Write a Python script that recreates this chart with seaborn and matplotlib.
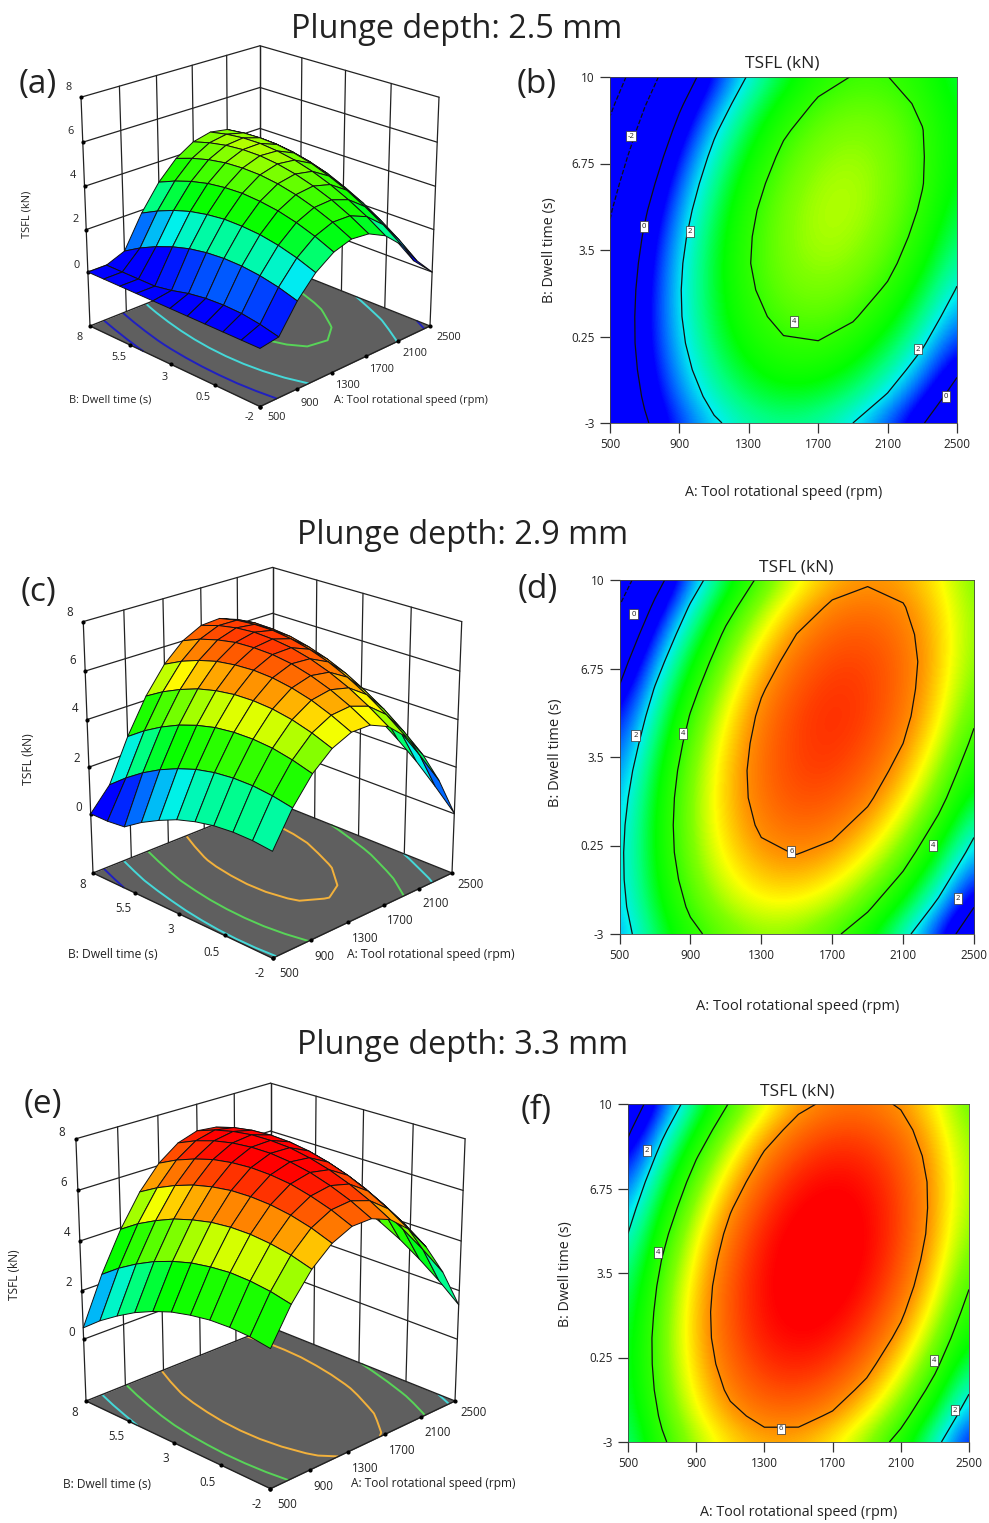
import numpy as np
import matplotlib
matplotlib.use('Agg')
import matplotlib.pyplot as plt
import seaborn as sns
from mpl_toolkits.mplot3d import proj3d

# tool speed / dwell time grid of the read-off tables
speed = [500, 700, 900, 1100, 1300, 1500, 1700, 1900, 2100, 2300, 2500]
dwell = [-3, -2, -1, 0, 1, 2, 3, 4, 5, 6, 7, 8, 9, 10]

# TSFL (kN), one row per dwell time
tsfl_25 = [
    [-1.65, -0.14, 1.03, 1.88, 2.41, 2.60, 2.46, 2.00, 1.21, 0.09, -1.35],
    [-1.42, 0.14, 1.38, 2.29, 2.87, 3.13, 3.05, 2.65, 1.92, 0.86, -0.52],
    [-1.28, 0.34, 1.64, 2.61, 3.25, 3.57, 3.55, 3.21, 2.54, 1.54, 0.21],
    [-1.22, 0.47, 1.82, 2.85, 3.55, 3.92, 3.97, 3.68, 3.07, 2.13, 0.87],
    [-1.25, 0.50, 1.92, 3.01, 3.77, 4.20, 4.30, 4.08, 3.53, 2.65, 1.44],
    [-1.34, 0.46, 1.94, 3.08, 3.90, 4.40, 4.56, 4.40, 3.90, 3.08, 1.94],
    [-1.52, 0.34, 1.88, 3.09, 3.97, 4.52, 4.74, 4.64, 4.21, 3.45, 2.36],
    [-1.79, 0.14, 1.74, 3.00, 3.94, 4.55, 4.84, 4.79, 4.42, 3.72, 2.69],
    [-2.12, -0.14, 1.51, 2.84, 3.84, 4.51, 4.85, 4.87, 4.55, 3.91, 2.94],
    [-2.56, -0.51, 1.20, 2.59, 3.65, 4.38, 4.78, 4.86, 4.60, 4.03, 3.12],
    [-3.06, -0.96, 0.82, 2.26, 3.38, 4.17, 4.63, 4.77, 4.57, 4.05, 3.20],
    [-3.65, -1.48, 0.35, 1.86, 3.04, 3.89, 4.41, 4.61, 4.47, 4.02, 3.22],
    [-4.31, -2.09, -0.19, 1.37, 2.61, 3.52, 4.10, 4.36, 4.28, 3.88, 3.15],
    [-5.05, -2.77, -0.82, 0.80, 2.10, 3.07, 3.71, 4.03, 4.01, 3.67, 3.00],
]
tsfl_29 = [
    [1.53, 2.83, 3.79, 4.40, 4.68, 4.60, 4.19, 3.43, 2.32, 0.88, -0.92],
    [1.72, 3.10, 4.13, 4.82, 5.17, 5.17, 4.83, 4.14, 3.11, 1.74, 0.02],
    [1.81, 3.26, 4.37, 5.14, 5.56, 5.64, 5.37, 4.76, 3.81, 2.51, 0.86],
    [1.82, 3.35, 4.54, 5.38, 5.88, 6.03, 5.84, 5.30, 4.43, 3.20, 1.64],
    [1.75, 3.35, 4.61, 5.53, 6.10, 6.33, 6.21, 5.75, 4.94, 3.79, 2.30],
    [1.59, 3.27, 4.60, 5.59, 6.24, 6.55, 6.50, 6.12, 5.39, 4.32, 2.90],
    [1.35, 3.10, 4.51, 5.57, 6.29, 6.67, 6.70, 6.39, 5.74, 4.73, 3.39],
    [1.00, 2.83, 4.32, 5.46, 6.25, 6.70, 6.81, 6.58, 6.00, 5.07, 3.81],
    [0.59, 2.49, 4.05, 5.27, 6.14, 6.67, 6.85, 6.69, 6.19, 5.34, 4.15],
    [0.08, 2.06, 3.69, 4.98, 5.93, 6.53, 6.79, 6.70, 6.27, 5.50, 4.38],
    [-0.51, 1.54, 3.25, 4.62, 5.64, 6.32, 6.65, 6.64, 6.29, 5.59, 4.55],
    [-1.19, 0.94, 2.72, 4.17, 5.26, 6.01, 6.42, 6.48, 6.20, 5.58, 4.61],
    [-1.95, 0.25, 2.11, 3.63, 4.80, 5.63, 6.11, 6.25, 6.04, 5.49, 4.60],
    [-2.81, -0.53, 1.40, 2.99, 4.24, 5.14, 5.70, 5.92, 5.79, 5.31, 4.50],
]
tsfl_33 = [
    [2.59, 3.87, 4.83, 5.45, 5.75, 5.72, 5.37, 4.68, 3.66, 2.32, 0.65],
    [2.80, 4.14, 5.15, 5.83, 6.19, 6.21, 5.91, 5.28, 4.32, 3.04, 1.42],
    [2.93, 4.32, 5.39, 6.13, 6.54, 6.62, 6.37, 5.80, 4.90, 3.67, 2.11],
    [2.97, 4.42, 5.54, 6.34, 6.80, 6.94, 6.75, 6.23, 5.38, 4.21, 2.71],
    [2.94, 4.45, 5.62, 6.47, 7.00, 7.19, 7.05, 6.59, 5.80, 4.68, 3.24],
    [2.82, 4.38, 5.62, 6.52, 7.10, 7.35, 7.27, 6.86, 6.13, 5.07, 3.67],
    [2.64, 4.25, 5.54, 6.50, 7.13, 7.44, 7.42, 7.06, 6.39, 5.38, 4.05],
    [2.36, 4.03, 5.37, 6.39, 7.08, 7.44, 7.47, 7.18, 6.56, 5.60, 4.32],
    [2.01, 3.74, 5.14, 6.21, 6.96, 7.37, 7.46, 7.22, 6.65, 5.76, 4.53],
    [1.57, 3.36, 4.81, 5.94, 6.74, 7.22, 7.36, 7.18, 6.66, 5.82, 4.66],
    [1.07, 2.91, 4.42, 5.60, 6.46, 6.99, 7.19, 7.06, 6.60, 5.82, 4.71],
    [0.47, 2.37, 3.93, 5.18, 6.09, 6.67, 6.93, 6.85, 6.46, 5.73, 4.67],
    [-0.19, 1.76, 3.38, 4.68, 5.65, 6.29, 6.60, 6.58, 6.24, 5.56, 4.56],
    [-0.95, 1.06, 2.74, 4.09, 5.11, 5.81, 6.18, 6.22, 5.93, 5.31, 4.37],
]

speed_ticks = [500, 900, 1300, 1700, 2100, 2500]
dwell_ticks = [-3, 0.25, 3.5, 6.75, 10]
dwell_tick_labels = ['-3', '0.25', '3.5', '6.75', '10']
dwell_ticks_3d = [-2, 0.5, 3, 5.5, 8]
dwell_tick_labels_3d = ['-2', '0.5', '3', '5.5', '8']
force_ticks = [0, 2, 4, 6, 8]
contour_levels = [-4, -2, 0, 2, 4, 6]
floor_line_colors = ['#2020c0', '#2020c0', '#2020c0', '#45d8d8', '#58d458', '#f2b13c']

# contour labels: speed, dwell, text
labels_b = [(621, 7.78, '-2'), (696, 4.37, '0'), (961, 4.2, '2'),
            (1561, 0.8, '4'), (2275, -0.22, '2'), (2437, -2.0, '0')]
labels_d = [(579, 8.75, '0'), (590, 4.3, '2'), (857, 4.35, '4'),
            (1469, 0.03, '6'), (2268, 0.25, '4'), (2409, -1.7, '2')]
labels_f = [(611, 8.2, '2'), (676, 4.3, '4'), (1397, -2.5, '6'),
            (2295, 0.12, '4'), (2418, -1.77, '2')]

W, H = 989, 1523
FLOOR = -2.6

sns.set_style('white')
plt.rcParams['font.family'] = ['Open Sans', 'DejaVu Sans']

cmap = sns.blend_palette(['#0000FF', '#0078FF', '#00F0F0', '#00FF80', '#00FF00', '#30FF00', '#80FF00',
                          '#FFFF00', '#FF9600', '#FF5000', '#FF0000'], n_colors=256, as_cmap=True)
norm = plt.Normalize(0.7, 7.2)

fig = plt.figure(figsize=(W / 100, H / 100), dpi=100, facecolor='white')


def put(x, y, s, size, **kw):
    fig.text(x / W, 1 - y / H, s, fontsize=size, ha='center', va='center', color='#222222', **kw)


def project(ax, x, y, z):
    x2, y2, _ = proj3d.proj_transform(x, y, z, ax.get_proj())
    return ax.transData.transform((x2, y2))


def fit_box(ax, left, right):
    # scale and shift the square axes so the floor corners land on the picture's
    ax.apply_aspect()
    p0 = project(ax, 500, 8, FLOOR)
    p1 = project(ax, 2500, -2, FLOOR)
    pos = ax.get_position()
    k = (right[0] - left[0]) / (p1[0] - p0[0])
    ax.set_position([pos.x0, pos.y0, pos.width * k, pos.height * k])
    ax.apply_aspect()
    p0 = project(ax, 500, 8, FLOOR)
    pos = ax.get_position()
    ax.set_position([pos.x0 + (left[0] - p0[0]) / W, pos.y0 + (H - left[1] - p0[1]) / H, pos.width, pos.height])
    ax.apply_aspect()


def surface(table, left, right, elev, focal, zbox, lab):
    ax = fig.add_axes([0.1, 0.1, 0.4, 0.4 * W / H], projection='3d', computed_zorder=False)
    ax.set_axis_off()
    ax.set_xlim(500, 2500)
    ax.set_ylim(-2, 8)
    ax.set_zlim(FLOOR, 8)
    ax.set_box_aspect((1, 1, zbox))
    ax.view_init(elev=elev, azim=-135)
    ax.set_proj_type('persp', focal_length=focal)
    fit_box(ax, left, right)

    z = np.array(table)[1:12]
    xx, yy = np.meshgrid(speed, dwell[1:12])

    # back walls
    line = dict(color='#222222', lw=0.9, zorder=1)
    for a in speed_ticks:
        ax.plot([a, a], [8, 8], [FLOOR, 8], **line)
    for b in dwell_ticks_3d:
        ax.plot([2500, 2500], [b, b], [FLOOR, 8], **line)
    for f in force_ticks:
        ax.plot([500, 2500], [8, 8], [f, f], **line)
        ax.plot([2500, 2500], [-2, 8], [f, f], **line)

    # floor with its contour lines
    ax.plot_surface(np.array([[500, 2500], [500, 2500]]), np.array([[-2, -2], [8, 8]]),
                    np.full((2, 2), FLOOR), color='#5f5f5f', shade=False, zorder=2, linewidth=0)
    ax.contour(xx, yy, z, levels=contour_levels, zdir='z', offset=FLOOR, zorder=3, linewidths=1.4,
               colors=floor_line_colors)
    ax.plot([500, 2500, 2500, 500, 500], [-2, -2, 8, 8, -2], [FLOOR] * 5, color='#222222', lw=1, zorder=4)
    ax.scatter(speed_ticks, [-2] * 6, [FLOOR] * 6, color='k', s=4, zorder=4, depthshade=False)
    ax.scatter([500] * 5, dwell_ticks_3d, [FLOOR] * 5, color='k', s=4, zorder=4, depthshade=False)
    ax.scatter([500] * 5, [8] * 5, force_ticks, color='k', s=4, zorder=4, depthshade=False)

    ax.plot_surface(xx, yy, np.clip(z, 0, None), rstride=1, cstride=1, cmap=cmap, norm=norm, shade=False,
                    edgecolor='#111111', linewidth=0.7, antialiased=True, zorder=5)

    for t, (x, y) in zip(force_ticks, lab['z']):
        put(x, y, str(t), lab['tick'])
    for t, (x, y) in zip(dwell_tick_labels_3d, lab['b']):
        put(x, y, t, lab['tick'])
    for t, (x, y) in zip(speed_ticks, lab['a']):
        put(x, y, str(t), lab['tick'])
    put(*lab['zname'], 'TSFL (kN)', lab['size'], rotation=90)
    put(*lab['bname'], 'B: Dwell time (s)', lab['size'])
    put(*lab['aname'], 'A: Tool rotational speed (rpm)', lab['size'])


def contour_map(table, box, labels, title_xy, xname_y, yname_xy, size):
    x0, x1, y0, y1 = box
    ax = fig.add_axes([x0 / W, 1 - y1 / H, (x1 - x0) / W, (y1 - y0) / H])
    ax.imshow(table, extent=[400, 2600, -3.5, 10.5], origin='lower', aspect='auto', interpolation='bicubic',
              cmap=cmap, norm=norm)
    ax.contour(speed, dwell, table, levels=contour_levels, colors='#111111', linewidths=0.9)
    for a, b, s in labels:
        ax.text(a, b, s, fontsize=5.5, ha='center', va='center', color='#222222',
                bbox=dict(boxstyle='square,pad=0.25', fc='white', ec='#333333', lw=0.5))
    ax.set_xlim(500, 2500)
    ax.set_ylim(-3, 10)
    ax.set_xticks(speed_ticks)
    ax.set_yticks(dwell_ticks)
    ax.set_yticklabels(dwell_tick_labels)
    ax.tick_params(left=True, bottom=True, length=7, width=0.9, color='#333333', labelsize=8.5, pad=4,
                   labelcolor='#222222')
    for sp in ax.spines.values():
        sp.set_linewidth(0.6)
        sp.set_color('#444444')
    put(*title_xy, 'TSFL (kN)', 12.5)
    put((x0 + x1) / 2 + 0.5, xname_y, 'A: Tool rotational speed (rpm)', size)
    put(*yname_xy, 'B: Dwell time (s)', size, rotation=90)


ELEV, FOCAL = 22, 0.8

surface(tsfl_25, (90, 326), (430, 327), ELEV, FOCAL, 1.0, dict(
    z=[(77, 265), (76, 220), (73, 176), (71, 132), (69, 88)],
    b=[(249, 418), (203, 398), (165, 378), (119, 358), (80, 337)],
    a=[(277, 418), (310, 403), (348, 386), (382, 370), (415, 354), (449, 337)],
    zname=(27, 214), bname=(110, 400), aname=(411, 400), size=7.9, tick=7.8))
surface(tsfl_29, (93, 873), (452, 873), ELEV, FOCAL, 1.04, dict(
    z=[(79, 807), (77, 758), (75, 709), (73, 661), (70, 613)],
    b=[(260, 974), (212, 952), (171, 929), (123, 908), (83, 885)],
    a=[(289, 974), (324, 957), (365, 939), (400, 921), (436, 904), (471, 885)],
    zname=(29, 759), bname=(113, 954), aname=(431, 954), size=8.7, tick=8.3))
surface(tsfl_33, (86, 1401), (455, 1401), ELEV, FOCAL, 1.055, dict(
    z=[(72, 1332), (69, 1282), (67, 1233), (64, 1183), (62, 1133)],
    b=[(257, 1504), (207, 1482), (166, 1458), (116, 1436), (75, 1413)],
    a=[(287, 1504), (323, 1487), (365, 1468), (402, 1450), (438, 1432), (474, 1413)],
    zname=(15, 1275), bname=(107, 1484), aname=(433, 1484), size=8.6, tick=8.3))

contour_map(tsfl_25, (610, 957, 77, 423), labels_b, (782, 64), 493, (549, 250), 10.3)
contour_map(tsfl_29, (619.5, 974, 580, 934), labels_d, (796, 568), 1006, (555, 753), 10.5)
contour_map(tsfl_33, (628, 969, 1104, 1442), labels_f, (797, 1092), 1513, (566, 1274), 10.3)

for s, x, y in [('Plunge depth: 2.5 mm', 457, 29), ('Plunge depth: 2.9 mm', 463, 535),
                ('Plunge depth: 3.3 mm', 463, 1045)]:
    put(x, y, s, 23.3)
for s, x, y in [('(a)', 38, 85), ('(b)', 537, 85), ('(c)', 38, 593), ('(d)', 538, 590),
                ('(e)', 43, 1104), ('(f)', 536, 1110)]:
    put(x, y, s, 24)

fig.savefig('out.png', dpi=100)
